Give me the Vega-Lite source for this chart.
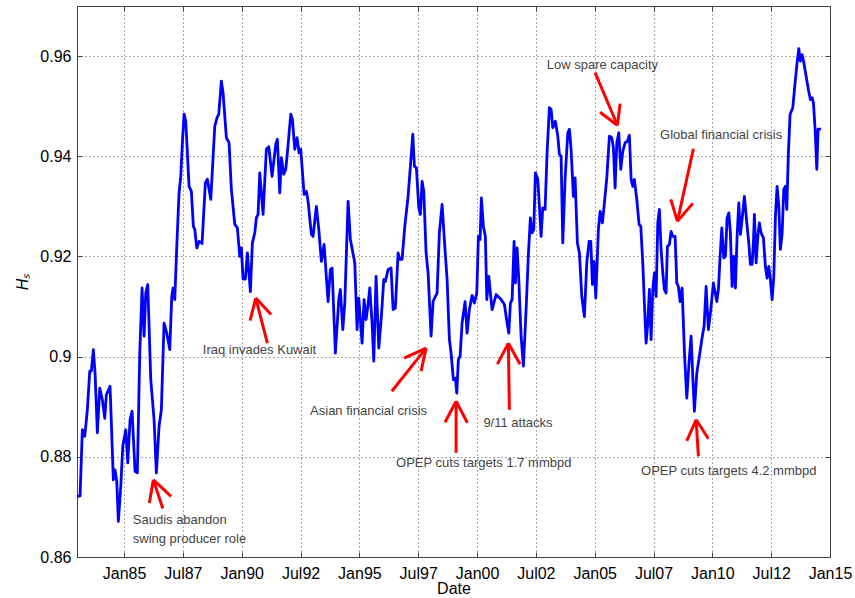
{
  "$schema": "https://vega.github.io/schema/vega-lite/v6.json",
  "width": 753,
  "height": 551,
  "autosize": {"type": "none"},
  "padding": {"left": 77, "top": 6, "right": 25, "bottom": 41},
  "background": "white",
  "config": {
    "font": "Liberation Sans",
    "view": {"stroke": "#444", "strokeWidth": 1},
    "axis": {
      "domainColor": "#444", "tickColor": "#444", "gridColor": "#222", "gridDash": [1, 3], "gridOpacity": 0.8,
      "labelFont": "Liberation Sans", "labelFontSize": 16, "labelColor": "#000",
      "titleFont": "Liberation Sans", "titleFontSize": 16, "titleFontWeight": "normal", "titleColor": "#000",
      "tickSize": -5
    }
  },
  "datasets": {
    "s": [
      {"t":1983.015,"v":0.8721},{"t":1983.130,"v":0.8722},{"t":1983.228,"v":0.8854},{"t":1983.330,"v":0.8841},{"t":1983.440,"v":0.8894},{"t":1983.542,"v":0.8971},{"t":1983.610,"v":0.8971},{"t":1983.695,"v":0.9014},{"t":1983.768,"v":0.8967},{"t":1983.865,"v":0.8848},{"t":1983.967,"v":0.8937},
      {"t":1984.078,"v":0.8914},{"t":1984.180,"v":0.8877},{"t":1984.248,"v":0.8924},{"t":1984.405,"v":0.8941},{"t":1984.545,"v":0.8754},{"t":1984.618,"v":0.8774},{"t":1984.690,"v":0.8751},{"t":1984.758,"v":0.8671},{"t":1984.860,"v":0.8741},{"t":1984.945,"v":0.8821},
      {"t":1985.072,"v":0.8854},{"t":1985.157,"v":0.8788},{"t":1985.255,"v":0.8874},{"t":1985.340,"v":0.8891},{"t":1985.468,"v":0.8771},{"t":1985.565,"v":0.8768},{"t":1985.667,"v":0.9007},{"t":1985.765,"v":0.9137},{"t":1985.850,"v":0.9041},{"t":1985.922,"v":0.9127},
      {"t":1986.007,"v":0.9144},{"t":1986.135,"v":0.8954},{"t":1986.275,"v":0.8874},{"t":1986.373,"v":0.8768},{"t":1986.488,"v":0.8861},{"t":1986.585,"v":0.8894},{"t":1986.700,"v":0.9067},{"t":1986.815,"v":0.9047},{"t":1986.942,"v":0.9014},
      {"t":1987.027,"v":0.9120},{"t":1987.083,"v":0.9137},{"t":1987.155,"v":0.9114},{"t":1987.240,"v":0.9220},{"t":1987.337,"v":0.9327},{"t":1987.410,"v":0.9360},{"t":1987.478,"v":0.9427},{"t":1987.550,"v":0.9484},{"t":1987.622,"v":0.9470},{"t":1987.762,"v":0.9340},{"t":1987.860,"v":0.9330},{"t":1987.945,"v":0.9260},
      {"t":1988.005,"v":0.9254},{"t":1988.090,"v":0.9217},{"t":1988.187,"v":0.9230},{"t":1988.315,"v":0.9226},{"t":1988.455,"v":0.9347},{"t":1988.540,"v":0.9354},{"t":1988.685,"v":0.9314},{"t":1988.855,"v":0.9460},{"t":1988.952,"v":0.9477},
      {"t":1989.025,"v":0.9484},{"t":1989.135,"v":0.9550},{"t":1989.207,"v":0.9527},{"t":1989.348,"v":0.9437},{"t":1989.462,"v":0.9427},{"t":1989.560,"v":0.9334},{"t":1989.705,"v":0.9264},{"t":1989.815,"v":0.9257},{"t":1989.917,"v":0.9200},{"t":1989.985,"v":0.9217},
      {"t":1990.057,"v":0.9155},{"t":1990.155,"v":0.9155},{"t":1990.240,"v":0.9207},{"t":1990.368,"v":0.9130},{"t":1990.453,"v":0.9227},{"t":1990.555,"v":0.9247},{"t":1990.623,"v":0.9277},{"t":1990.695,"v":0.9284},{"t":1990.767,"v":0.9367},{"t":1990.907,"v":0.9284},
      {"t":1991.048,"v":0.9414},{"t":1991.150,"v":0.9419},{"t":1991.290,"v":0.9360},{"t":1991.447,"v":0.9424},{"t":1991.515,"v":0.9434},{"t":1991.617,"v":0.9327},{"t":1991.685,"v":0.9397},{"t":1991.787,"v":0.9364},{"t":1991.872,"v":0.9374},{"t":1991.940,"v":0.9407},
      {"t":1992.085,"v":0.9484},{"t":1992.153,"v":0.9474},{"t":1992.255,"v":0.9414},{"t":1992.352,"v":0.9437},{"t":1992.437,"v":0.9407},{"t":1992.510,"v":0.9414},{"t":1992.650,"v":0.9324},{"t":1992.748,"v":0.9330},{"t":1992.820,"v":0.9310},{"t":1992.960,"v":0.9244},
      {"t":1993.032,"v":0.9240},{"t":1993.173,"v":0.9300},{"t":1993.275,"v":0.9254},{"t":1993.385,"v":0.9190},{"t":1993.500,"v":0.9224},{"t":1993.585,"v":0.9167},{"t":1993.670,"v":0.9110},{"t":1993.768,"v":0.9174},{"t":1993.840,"v":0.9177},{"t":1993.980,"v":0.9007},
      {"t":1994.125,"v":0.9114},{"t":1994.193,"v":0.9134},{"t":1994.295,"v":0.9054},{"t":1994.380,"v":0.9107},{"t":1994.520,"v":0.9310},{"t":1994.618,"v":0.9234},{"t":1994.805,"v":0.9187},{"t":1994.902,"v":0.9054},{"t":1994.975,"v":0.9117},
      {"t":1995.043,"v":0.9074},{"t":1995.115,"v":0.9027},{"t":1995.200,"v":0.9114},{"t":1995.285,"v":0.9074},{"t":1995.370,"v":0.9104},{"t":1995.442,"v":0.9137},{"t":1995.540,"v":0.9067},{"t":1995.612,"v":0.8991},{"t":1995.710,"v":0.9160},{"t":1995.825,"v":0.9017},{"t":1995.935,"v":0.9080},
      {"t":1996.037,"v":0.9154},{"t":1996.105,"v":0.9150},{"t":1996.220,"v":0.9174},{"t":1996.347,"v":0.9177},{"t":1996.432,"v":0.9094},{"t":1996.530,"v":0.9097},{"t":1996.645,"v":0.9207},{"t":1996.717,"v":0.9194},{"t":1996.815,"v":0.9194},{"t":1996.930,"v":0.9260},
      {"t":1997.070,"v":0.9320},{"t":1997.168,"v":0.9380},{"t":1997.270,"v":0.9444},{"t":1997.338,"v":0.9380},{"t":1997.423,"v":0.9377},{"t":1997.525,"v":0.9297},{"t":1997.593,"v":0.9284},{"t":1997.665,"v":0.9350},{"t":1997.737,"v":0.9330},{"t":1997.835,"v":0.9207},{"t":1997.920,"v":0.9167},
      {"t":1998.047,"v":0.9041},{"t":1998.132,"v":0.9110},{"t":1998.230,"v":0.9120},{"t":1998.302,"v":0.9127},{"t":1998.400,"v":0.9247},{"t":1998.515,"v":0.9304},{"t":1998.630,"v":0.9220},{"t":1998.727,"v":0.9155},{"t":1998.825,"v":0.9035},{"t":1998.897,"v":0.9007},{"t":1998.995,"v":0.8954},
      {"t":1999.080,"v":0.8957},{"t":1999.140,"v":0.8927},{"t":1999.207,"v":0.8994},{"t":1999.280,"v":0.9001},{"t":1999.365,"v":0.9067},{"t":1999.492,"v":0.9110},{"t":1999.577,"v":0.9047},{"t":1999.675,"v":0.9094},{"t":1999.790,"v":0.9122},{"t":1999.887,"v":0.9107},{"t":1999.990,"v":0.9127},
      {"t":2000.058,"v":0.9240},{"t":2000.130,"v":0.9234},{"t":2000.185,"v":0.9317},{"t":2000.270,"v":0.9260},{"t":2000.355,"v":0.9240},{"t":2000.415,"v":0.9114},{"t":2000.500,"v":0.9160},{"t":2000.568,"v":0.9127},{"t":2000.640,"v":0.9094},{"t":2000.810,"v":0.9124},
      {"t":2001.023,"v":0.9114},{"t":2001.163,"v":0.9104},{"t":2001.277,"v":0.9067},{"t":2001.350,"v":0.9047},{"t":2001.418,"v":0.9107},{"t":2001.490,"v":0.9114},{"t":2001.575,"v":0.9230},{"t":2001.630,"v":0.9147},{"t":2001.702,"v":0.9217},{"t":2001.775,"v":0.9154},{"t":2001.872,"v":0.9041},{"t":2001.970,"v":0.8981},
      {"t":2002.085,"v":0.9094},{"t":2002.182,"v":0.9204},{"t":2002.267,"v":0.9277},{"t":2002.340,"v":0.9247},{"t":2002.412,"v":0.9254},{"t":2002.480,"v":0.9367},{"t":2002.582,"v":0.9354},{"t":2002.650,"v":0.9300},{"t":2002.722,"v":0.9240},{"t":2002.794,"v":0.9297},{"t":2002.892,"v":0.9294},{"t":2002.977,"v":0.9407},
      {"t":2003.075,"v":0.9497},{"t":2003.147,"v":0.9494},{"t":2003.219,"v":0.9457},{"t":2003.330,"v":0.9470},{"t":2003.432,"v":0.9440},{"t":2003.500,"v":0.9404},{"t":2003.572,"v":0.9400},{"t":2003.644,"v":0.9227},{"t":2003.742,"v":0.9354},{"t":2003.857,"v":0.9447},{"t":2003.925,"v":0.9454},{"t":2003.997,"v":0.9414},
      {"t":2004.094,"v":0.9320},{"t":2004.167,"v":0.9357},{"t":2004.265,"v":0.9227},{"t":2004.350,"v":0.9207},{"t":2004.452,"v":0.9120},{"t":2004.562,"v":0.9080},{"t":2004.664,"v":0.9187},{"t":2004.762,"v":0.9230},{"t":2004.835,"v":0.9230},{"t":2004.903,"v":0.9144},{"t":2004.975,"v":0.9190},
      {"t":2005.047,"v":0.9117},{"t":2005.158,"v":0.9254},{"t":2005.230,"v":0.9290},{"t":2005.328,"v":0.9267},{"t":2005.413,"v":0.9307},{"t":2005.515,"v":0.9357},{"t":2005.625,"v":0.9440},{"t":2005.727,"v":0.9437},{"t":2005.795,"v":0.9417},{"t":2005.867,"v":0.9337},{"t":2005.939,"v":0.9427},
      {"t":2006.024,"v":0.9447},{"t":2006.109,"v":0.9374},{"t":2006.194,"v":0.9410},{"t":2006.292,"v":0.9427},{"t":2006.390,"v":0.9430},{"t":2006.475,"v":0.9442},{"t":2006.547,"v":0.9354},{"t":2006.619,"v":0.9340},{"t":2006.687,"v":0.9354},{"t":2006.789,"v":0.9314},{"t":2006.887,"v":0.9264},{"t":2006.959,"v":0.9260},
      {"t":2007.044,"v":0.9187},{"t":2007.112,"v":0.9107},{"t":2007.185,"v":0.9027},{"t":2007.257,"v":0.9067},{"t":2007.325,"v":0.9134},{"t":2007.397,"v":0.9034},{"t":2007.469,"v":0.9134},{"t":2007.537,"v":0.9167},{"t":2007.610,"v":0.9120},{"t":2007.682,"v":0.9267},{"t":2007.750,"v":0.9294},{"t":2007.822,"v":0.9214},{"t":2007.894,"v":0.9167},{"t":2007.962,"v":0.9134},
      {"t":2008.035,"v":0.9127},{"t":2008.090,"v":0.9220},{"t":2008.175,"v":0.9224},{"t":2008.247,"v":0.9250},{"t":2008.319,"v":0.9240},{"t":2008.417,"v":0.9240},{"t":2008.489,"v":0.9147},{"t":2008.557,"v":0.9140},{"t":2008.630,"v":0.9110},{"t":2008.715,"v":0.9137},{"t":2008.821,"v":0.9001},{"t":2008.914,"v":0.8917},
      {"t":2009.012,"v":0.8990},{"t":2009.097,"v":0.9041},{"t":2009.169,"v":0.8960},{"t":2009.237,"v":0.8891},{"t":2009.339,"v":0.8967},{"t":2009.450,"v":0.9001},{"t":2009.552,"v":0.9034},{"t":2009.650,"v":0.9061},{"t":2009.735,"v":0.9140},{"t":2009.832,"v":0.9054},{"t":2009.934,"v":0.9094},
      {"t":2010.045,"v":0.9147},{"t":2010.190,"v":0.9110},{"t":2010.258,"v":0.9134},{"t":2010.330,"v":0.9200},{"t":2010.402,"v":0.9257},{"t":2010.487,"v":0.9197},{"t":2010.555,"v":0.9200},{"t":2010.627,"v":0.9277},{"t":2010.699,"v":0.9287},{"t":2010.767,"v":0.9247},{"t":2010.839,"v":0.9140},{"t":2010.912,"v":0.9200},{"t":2010.980,"v":0.9137},
      {"t":2011.052,"v":0.9240},{"t":2011.124,"v":0.9307},{"t":2011.192,"v":0.9244},{"t":2011.264,"v":0.9274},{"t":2011.362,"v":0.9320},{"t":2011.464,"v":0.9267},{"t":2011.549,"v":0.9227},{"t":2011.617,"v":0.9184},{"t":2011.689,"v":0.9184},{"t":2011.745,"v":0.9227},{"t":2011.787,"v":0.9284},{"t":2011.859,"v":0.9187},{"t":2011.944,"v":0.9247},{"t":2011.999,"v":0.9267},
      {"t":2012.072,"v":0.9247},{"t":2012.170,"v":0.9237},{"t":2012.255,"v":0.9180},{"t":2012.327,"v":0.9157},{"t":2012.399,"v":0.9180},{"t":2012.455,"v":0.9160},{"t":2012.540,"v":0.9114},{"t":2012.612,"v":0.9160},{"t":2012.680,"v":0.9280},{"t":2012.752,"v":0.9340},{"t":2012.824,"v":0.9300},{"t":2012.892,"v":0.9214},{"t":2012.964,"v":0.9244},
      {"t":2013.036,"v":0.9334},{"t":2013.104,"v":0.9340},{"t":2013.164,"v":0.9294},{"t":2013.232,"v":0.9407},{"t":2013.304,"v":0.9484},{"t":2013.419,"v":0.9497},{"t":2013.517,"v":0.9547},{"t":2013.602,"v":0.9587},{"t":2013.674,"v":0.9615},{"t":2013.742,"v":0.9590},{"t":2013.815,"v":0.9603},{"t":2013.887,"v":0.9587},{"t":2013.985,"v":0.9560},
      {"t":2014.082,"v":0.9533},{"t":2014.167,"v":0.9513},{"t":2014.239,"v":0.9517},{"t":2014.295,"v":0.9507},{"t":2014.367,"v":0.9454},{"t":2014.439,"v":0.9374},{"t":2014.494,"v":0.9454},{"t":2014.550,"v":0.9454},{"t":2014.622,"v":0.9455}
    ],
    "a": [
      {"t":1986.645,"v":0.8697,"t2":1986.245,"v2":0.8754},{"t":1986.075,"v":0.8708,"t2":1986.245,"v2":0.8754},{"t":1986.998,"v":0.8721,"t2":1986.245,"v2":0.8754},
      {"t":1991.090,"v":0.9027,"t2":1990.597,"v2":0.9117},{"t":1990.355,"v":0.9072,"t2":1990.597,"v2":0.9117},{"t":1991.247,"v":0.9084,"t2":1990.597,"v2":0.9117},
      {"t":1996.377,"v":0.8931,"t2":1997.835,"v2":0.9017},{"t":1996.900,"v":0.8997,"t2":1997.835,"v2":0.9017},{"t":1997.622,"v":0.8971,"t2":1997.835,"v2":0.9017},
      {"t":1999.110,"v":0.8808,"t2":1999.110,"v2":0.8911},{"t":1998.642,"v":0.8869,"t2":1999.110,"v2":0.8911},{"t":1999.590,"v":0.8868,"t2":1999.110,"v2":0.8911},
      {"t":2001.375,"v":0.8894,"t2":2001.332,"v2":0.9027},{"t":2000.865,"v":0.8985,"t2":2001.332,"v2":0.9027},{"t":2001.830,"v":0.8985,"t2":2001.332,"v2":0.9027},
      {"t":2005.017,"v":0.9567,"t2":2005.965,"v2":0.9462},{"t":2005.230,"v":0.9488,"t2":2005.965,"v2":0.9462},{"t":2006.080,"v":0.9505,"t2":2005.965,"v2":0.9462},
      {"t":2009.195,"v":0.9415,"t2":2008.515,"v2":0.9270},{"t":2008.234,"v":0.9314,"t2":2008.515,"v2":0.9270},{"t":2009.169,"v":0.9306,"t2":2008.515,"v2":0.9270},
      {"t":2009.407,"v":0.8801,"t2":2009.310,"v2":0.8874},{"t":2008.914,"v":0.8832,"t2":2009.310,"v2":0.8874},{"t":2009.832,"v":0.8836,"t2":2009.310,"v2":0.8874}
    ],
    "l": [
      {"t":1985.370,"v":0.8673,"text":"Saudis abandon"},
      {"t":1985.370,"v":0.8636,"text":"swing producer role"},
      {"t":1988.345,"v":0.9013,"text":"Iraq invades Kuwait"},
      {"t":1992.905,"v":0.8891,"text":"Asian financial crisis"},
      {"t":1996.560,"v":0.8788,"text":"OPEP cuts targets 1.7 mmbpd"},
      {"t":2000.270,"v":0.8868,"text":"9/11 attacks"},
      {"t":2002.964,"v":0.9582,"text":"Low spare capacity"},
      {"t":2007.780,"v":0.9442,"text":"Global financial crisis"},
      {"t":2006.972,"v":0.8771,"text":"OPEP cuts targets 4.2 mmbpd"}
    ]
  },
  "layer": [
    {
      "data": {"name": "s"},
      "mark": {"type": "line", "color": "#0000FF", "strokeWidth": 2.8, "strokeJoin": "round"},
      "encoding": {
        "x": {"field": "t", "type": "quantitative",
              "scale": {"domain": [1983, 2015], "nice": false, "zero": false},
              "axis": {"orient": "bottom", "title": "Date", "values": [1985, 1987.5, 1990, 1992.5, 1995, 1997.5, 2000, 2002.5, 2005, 2007.5, 2010, 2012.5, 2015],
                       "labelExpr": "(datum.value % 1 == 0 ? 'Jan' : 'Jul') + substring(toString(floor(datum.value)), 2)",
                       "grid": true, "labelPadding": 13, "titlePadding": -1, "labelFlush": false, "labelOverlap": false}},
        "y": {"field": "v", "type": "quantitative",
              "scale": {"domain": [0.86, 0.97], "nice": false, "zero": false},
              "axis": {"orient": "left", "title": "Hₛ", "titleFontStyle": "italic", "values": [0.86, 0.88, 0.9, 0.92, 0.94, 0.96], "format": ".2~f",
                       "grid": true, "labelPadding": 11, "titlePadding": 9, "labelFlush": false}}
      }
    },
    {
      "data": {"name": "a"},
      "mark": {"type": "rule", "color": "#FF0000", "strokeWidth": 3},
      "encoding": {
        "x": {"field": "t", "type": "quantitative",
              "axis": {"orient": "top", "title": null, "labels": false, "grid": false, "domain": false, "values": [1985, 1987.5, 1990, 1992.5, 1995, 1997.5, 2000, 2002.5, 2005, 2007.5, 2010, 2012.5, 2015]}},
        "y": {"field": "v", "type": "quantitative",
              "axis": {"orient": "right", "title": null, "labels": false, "grid": false, "domain": false, "values": [0.86, 0.88, 0.9, 0.92, 0.94, 0.96]}},
        "x2": {"field": "t2"},
        "y2": {"field": "v2"}
      }
    },
    {
      "data": {"name": "l"},
      "mark": {"type": "text", "align": "left", "baseline": "middle", "fontSize": 13, "color": "#444", "font": "Liberation Sans"},
      "encoding": {
        "x": {"field": "t", "type": "quantitative", "axis": null},
        "y": {"field": "v", "type": "quantitative", "axis": null},
        "text": {"field": "text"}
      }
    }
  ],
  "resolve": {"axis": {"x": "independent", "y": "independent"}}
}
